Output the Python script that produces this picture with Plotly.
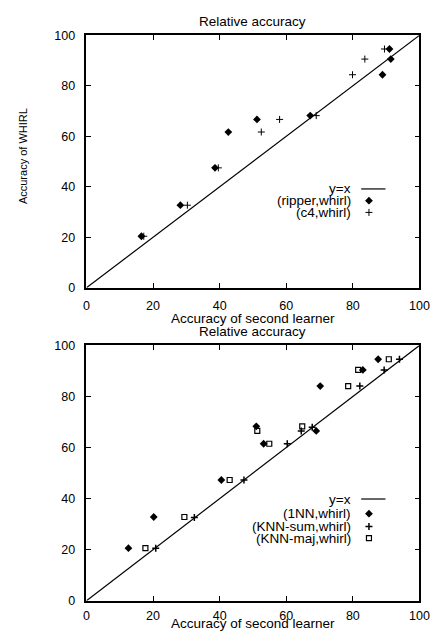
import plotly.graph_objects as go

# ---------------- data ----------------
diag = [0, 100]

# top panel
ripper_x = [91.0, 91.4, 88.9, 67.2, 51.2, 42.6, 38.6, 28.2, 16.5]
ripper_y = [94.6, 90.6, 84.4, 68.2, 66.7, 61.7, 47.5, 32.7, 20.4]
c4_x = [89.5, 83.6, 79.9, 69.0, 58.0, 52.5, 39.6, 30.3, 17.2]
c4_y = [94.6, 90.6, 84.4, 68.2, 66.7, 61.7, 47.5, 32.7, 20.4]

# bottom panel
nn1_x = [87.6, 83.0, 70.2, 51.0, 69.0, 53.2, 40.5, 20.2, 12.6]
nn1_y = [94.6, 90.4, 84.1, 68.3, 66.5, 61.5, 47.3, 32.8, 20.6]
knnsum_x = [94.0, 89.4, 82.1, 67.8, 64.5, 60.3, 47.3, 32.4, 20.8]
knnsum_y = [94.6, 90.4, 84.1, 68.0, 66.5, 61.5, 47.3, 32.6, 20.6]
knnmaj_x = [90.8, 81.6, 78.6, 51.3, 64.8, 54.9, 43.0, 29.4, 17.7]
knnmaj_y = [94.6, 90.4, 84.1, 66.5, 68.3, 61.5, 47.3, 32.8, 20.6]

tick_vals = [0, 20, 40, 60, 80, 100]
tick_text = ["0", "20", "40", "60", "80", "100"]

top_legend = ["y=x", "(ripper,whirl)", "(c4,whirl)"]
bot_legend = ["y=x", "(1NN,whirl)", "(KNN-sum,whirl)", "(KNN-maj,whirl)"]

# ---------------- layout constants (pixels) ----------------
W, H = 444, 641
FONT = "Liberation Sans, Arial, Helvetica, sans-serif"
FS_TICK = 12.5
FS_TXT = 13.5
PX_L, PX_R = 86, 429
TOP_T, TOP_B = 29, 287
BOT_T, BOT_B = 346, 607


def px(x):
    return x / W


def py(y):
    return 1 - y / H


diamond = dict(symbol="diamond", size=6, color="black")
plus = dict(symbol="cross-thin-open", size=5, color="black", line=dict(color="black", width=1))
plus_bold = dict(symbol="cross-thin-open", size=5, color="black", line=dict(color="black", width=1.5))
square = dict(symbol="square-open", size=5, color="black", line=dict(color="black", width=1.2))
line_style = dict(color="black", width=1.2)

fig = go.Figure()

# top panel traces
fig.add_trace(go.Scatter(x=diag, y=diag, mode="lines", line=line_style, xaxis="x", yaxis="y"))
fig.add_trace(go.Scatter(x=ripper_x, y=ripper_y, mode="markers", marker=diamond, xaxis="x", yaxis="y"))
fig.add_trace(go.Scatter(x=c4_x, y=c4_y, mode="markers", marker=plus, xaxis="x", yaxis="y"))

# bottom panel traces
fig.add_trace(go.Scatter(x=diag, y=diag, mode="lines", line=line_style, xaxis="x2", yaxis="y2"))
fig.add_trace(go.Scatter(x=nn1_x, y=nn1_y, mode="markers", marker=diamond, xaxis="x2", yaxis="y2"))
fig.add_trace(go.Scatter(x=knnsum_x, y=knnsum_y, mode="markers", marker=plus_bold, xaxis="x2", yaxis="y2"))
fig.add_trace(go.Scatter(x=knnmaj_x, y=knnmaj_y, mode="markers", marker=square, xaxis="x2", yaxis="y2"))

# legend keys on a pixel overlay axis
SYM_X = 377
LINE_X0, LINE_X1 = 369, 394
TXT_X = 361
top_rows = [186, 198, 210]
bot_rows = [503, 518, 531, 543]

fig.add_trace(go.Scatter(x=[LINE_X0, LINE_X1], y=[top_rows[0]] * 2, mode="lines", line=line_style,
                         xaxis="x3", yaxis="y3"))
fig.add_trace(go.Scatter(x=[SYM_X], y=[top_rows[1]], mode="markers", marker=diamond, xaxis="x3", yaxis="y3"))
fig.add_trace(go.Scatter(x=[SYM_X], y=[top_rows[2]], mode="markers", marker=plus, xaxis="x3", yaxis="y3"))
fig.add_trace(go.Scatter(x=[LINE_X0, LINE_X1], y=[bot_rows[0]] * 2, mode="lines", line=line_style,
                         xaxis="x3", yaxis="y3"))
fig.add_trace(go.Scatter(x=[SYM_X], y=[bot_rows[1]], mode="markers", marker=diamond, xaxis="x3", yaxis="y3"))
fig.add_trace(go.Scatter(x=[SYM_X], y=[bot_rows[2]], mode="markers", marker=plus_bold, xaxis="x3", yaxis="y3"))
fig.add_trace(go.Scatter(x=[SYM_X], y=[bot_rows[3]], mode="markers", marker=square, xaxis="x3", yaxis="y3"))

annotations = []
for txt, r in zip(top_legend, top_rows):
    annotations.append(dict(text=txt, x=px(TXT_X), y=py(r), xref="paper", yref="paper",
                            xanchor="right", yanchor="middle", showarrow=False))
for txt, r in zip(bot_legend, bot_rows):
    annotations.append(dict(text=txt, x=px(TXT_X), y=py(r), xref="paper", yref="paper",
                            xanchor="right", yanchor="middle", showarrow=False))

cx = px((PX_L + PX_R) / 2)
annotations += [
    dict(text="Relative accuracy", x=cx, y=py(15), xref="paper", yref="paper",
         xanchor="center", yanchor="middle", showarrow=False),
    dict(text="Accuracy of second learner", x=cx, y=py(318), xref="paper", yref="paper",
         xanchor="center", yanchor="middle", showarrow=False),
    dict(text="Relative accuracy", x=cx, y=py(332), xref="paper", yref="paper",
         xanchor="center", yanchor="middle", showarrow=False),
    dict(text="Accuracy of second learner", x=cx, y=py(630), xref="paper", yref="paper",
         xanchor="center", yanchor="middle", showarrow=False),
    dict(text="Accuracy of WHIRL", x=px(20), y=py(152), xref="paper", yref="paper",
         xanchor="center", yanchor="middle", textangle=-90, showarrow=False,
         font=dict(family=FONT, size=11, color="black")),
]

axis_common = dict(
    range=[0, 100], tickmode="array", tickvals=tick_vals, ticktext=tick_text,
    ticks="inside", ticklen=5, tickwidth=1, tickcolor="black",
    showline=True, linecolor="black", linewidth=1.5, mirror="allticks",
    showgrid=False, zeroline=False, fixedrange=True,
    tickfont=dict(family=FONT, size=FS_TICK, color="black"),
)

xdom = [px(PX_L), px(PX_R)]
fig.update_layout(
    width=W, height=H,
    margin=dict(l=0, r=0, t=0, b=0),
    paper_bgcolor="white", plot_bgcolor="rgba(0,0,0,0)",
    showlegend=False,
    font=dict(family=FONT, size=FS_TXT, color="black"),
    xaxis=dict(domain=xdom, anchor="y", ticklabelstandoff=6, **axis_common),
    yaxis=dict(domain=[py(TOP_B), py(TOP_T)], anchor="x", ticklabelstandoff=7, **axis_common),
    xaxis2=dict(domain=xdom, anchor="y2", ticklabelstandoff=3, **axis_common),
    yaxis2=dict(domain=[py(BOT_B), py(BOT_T)], anchor="x2", ticklabelstandoff=7, **axis_common),
    xaxis3=dict(domain=[0, 1], range=[0, W], visible=False, anchor="y3", fixedrange=True),
    yaxis3=dict(domain=[0, 1], range=[H, 0], visible=False, anchor="x3", fixedrange=True),
    annotations=annotations,
)

fig.write_html(
    "out.html",
    config={"displayModeBar": False},
    post_script="document.body.style.margin='0';document.body.style.overflow='hidden';",
)
